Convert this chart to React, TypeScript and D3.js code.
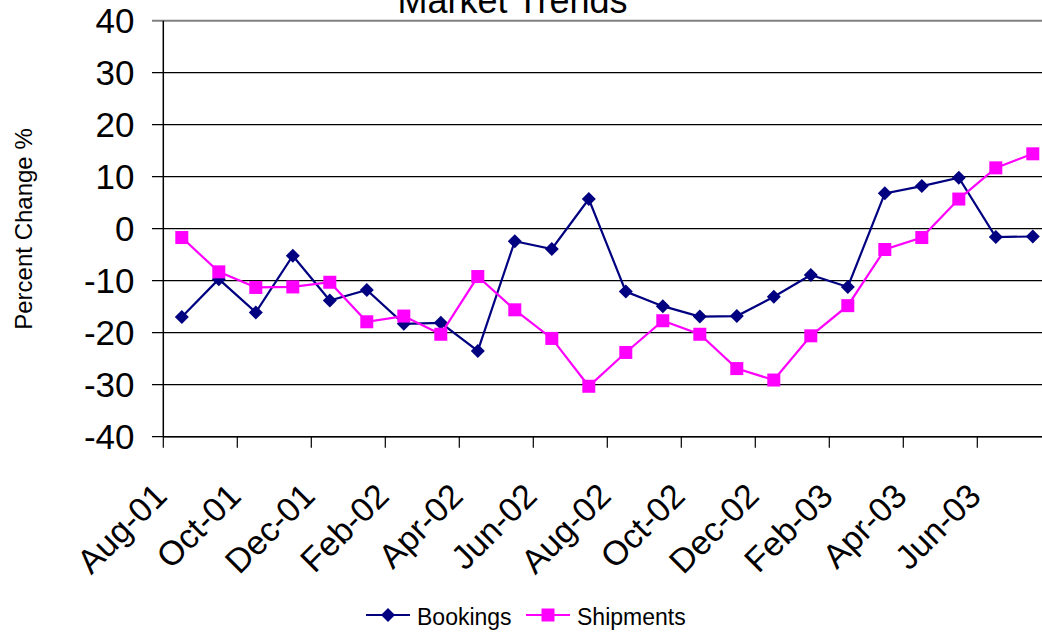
import React from 'react';
import * as d3 from 'd3';

const months = [
  'Aug-01', 'Sep-01', 'Oct-01', 'Nov-01', 'Dec-01', 'Jan-02', 'Feb-02', 'Mar-02',
  'Apr-02', 'May-02', 'Jun-02', 'Jul-02', 'Aug-02', 'Sep-02', 'Oct-02', 'Nov-02',
  'Dec-02', 'Jan-03', 'Feb-03', 'Mar-03', 'Apr-03', 'May-03', 'Jun-03', 'Jul-03'
];

const bookings = [
  -17.0, -9.7, -16.1, -5.2, -13.8, -11.8, -18.3, -18.1, -23.5, -2.4, -3.9, 5.7,
  -12.1, -14.9, -16.9, -16.8, -13.1, -8.9, -11.2, 6.8, 8.2, 9.8, -1.6, -1.5
];

const shipments = [
  -1.7, -8.3, -11.3, -11.2, -10.3, -17.9, -16.8, -20.3, -9.2, -15.6, -21.1, -30.3,
  -23.8, -17.7, -20.3, -26.9, -29.1, -20.6, -14.8, -4.0, -1.7, 5.7, 11.7, 14.4
];

const yTicks = [-40, -30, -20, -10, 0, 10, 20, 30, 40];

const W = 1042;
const H = 635;
const FONT = '"Liberation Sans", Arial, sans-serif';
const NAVY = '#000080';
const MAGENTA = '#FF00FF';

export default function App() {
  const left = 163.3;
  const step = 37;
  const x = d3.scaleBand<string>().domain(months).range([left, left + step * months.length]);
  const y = d3.scaleLinear().domain([-40, 40]).range([436.7, 20.7]);
  const cx = (m: string) => (x(m) as number) + x.bandwidth() / 2;
  const right = left + step * months.length;

  const line = d3.line<number>()
    .x((_, i) => cx(months[i]))
    .y(d => y(d));

  const diamond = (px: number, py: number, r = 7) =>
    `M${px},${py - r}L${px + r},${py}L${px},${py + r}L${px - r},${py}Z`;

  const tickIdx = months.map((_, i) => i).filter(i => i % 2 === 0);

  return (
    <svg width={W} height={H} style={{ position: 'absolute', left: 0, top: 0, background: '#fff' }}
      fontFamily={FONT}>
      <rect width={W} height={H} fill="#fff" />

      {/* title, cut off at top */}
      <text x={512.5} y={13} textAnchor="middle" fontSize={36}>Market Trends</text>

      {/* gridlines */}
      {yTicks.map(t => (
        <line key={t} x1={152} x2={right} y1={y(t)} y2={y(t)}
          stroke={t === 40 ? '#808080' : '#000'} strokeWidth={t === 40 ? 2 : 1.2} />
      ))}

      {/* y axis */}
      <line x1={left} x2={left} y1={y(40)} y2={y(-40)} stroke="#000" strokeWidth={1.5} />
      {yTicks.map(t => (
        <text key={t} x={134.5} y={y(t) + 12.5} textAnchor="end" fontSize={35}>{t}</text>
      ))}
      <text transform={`translate(31.5,229) rotate(-90)`} textAnchor="middle" fontSize={24}>
        Percent Change %
      </text>

      {/* x axis */}
      <line x1={left} x2={right} y1={y(-40)} y2={y(-40)} stroke="#000" strokeWidth={1.5} />
      {tickIdx.map(i => (
        <line key={i} x1={x(months[i])} x2={x(months[i])} y1={y(-40)} y2={y(-40) + 11}
          stroke="#000" strokeWidth={1.2} />
      ))}
      {tickIdx.map(i => (
        <text key={i} transform={`translate(${cx(months[i]) - 13},498) rotate(-45)`}
          textAnchor="end" fontSize={34}>{months[i]}</text>
      ))}

      {/* series */}
      <path d={line(bookings) || ''} fill="none" stroke={NAVY} strokeWidth={2.2} />
      {bookings.map((v, i) => (
        <path key={i} d={diamond(cx(months[i]), y(v))} fill={NAVY} />
      ))}
      <path d={line(shipments) || ''} fill="none" stroke={MAGENTA} strokeWidth={2.2} />
      {shipments.map((v, i) => (
        <rect key={i} x={cx(months[i]) - 6.5} y={y(v) - 6.5} width={13} height={13} fill={MAGENTA} />
      ))}

      {/* legend */}
      <line x1={366} x2={410} y1={615} y2={615} stroke={NAVY} strokeWidth={2.2} />
      <path d={diamond(388, 615)} fill={NAVY} />
      <text x={417} y={625} fontSize={23}>Bookings</text>
      <line x1={526} x2={570} y1={615} y2={615} stroke={MAGENTA} strokeWidth={2.2} />
      <rect x={541.5} y={608.5} width={13} height={13} fill={MAGENTA} />
      <text x={577} y={625} fontSize={23}>Shipments</text>
    </svg>
  );
}
